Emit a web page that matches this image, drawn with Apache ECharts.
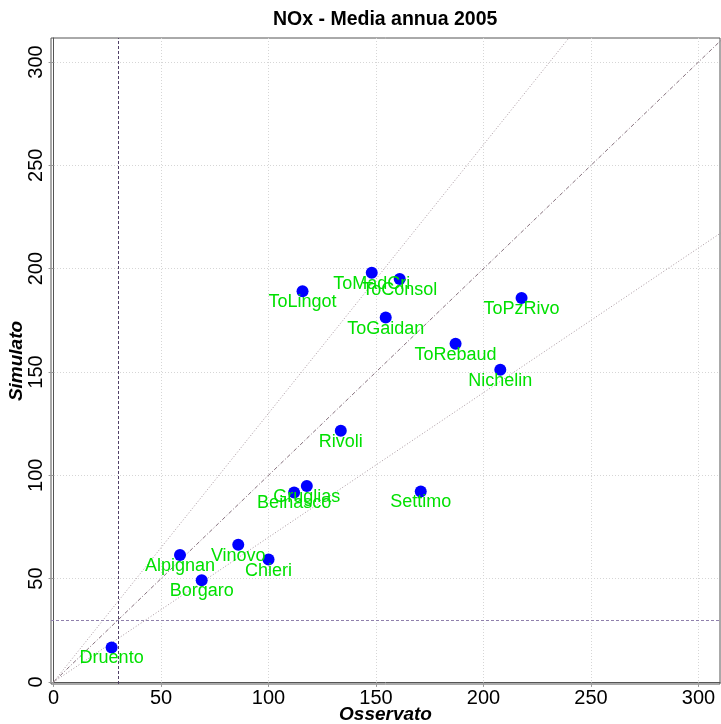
<!DOCTYPE html>
<html>
<head>
<meta charset="utf-8">
<script src="https://cdn.jsdelivr.net/npm/echarts@6/dist/echarts.min.js"></script>
<style>
html,body{margin:0;padding:0;background:#fff;}
#chart{width:721px;height:724px;}
</style>
</head>
<body>
<div id="chart"></div>
<script>
// ---- data ----
const stations = ['Druento','Borgaro','Alpignan','Vinovo','Chieri','Beinasco','Gruglias','Rivoli','Settimo','ToLingot','ToMadCri','ToConsol','ToGaidan','ToPzRivo','ToRebaud','Nichelin'];
const observed  = [27.0, 68.9, 58.8, 85.9, 100.0, 111.9, 117.8, 133.6, 170.8, 115.8, 148.0, 161.0, 154.5, 217.7, 187.0, 207.8];
const simulated = [16.7, 49.2, 61.4, 66.4, 59.2,  91.7,  94.8, 121.6,  92.2, 189.0, 198.0, 195.0, 176.3, 185.8, 163.7, 151.1];
const tickValues = [0, 50, 100, 150, 200, 250, 300];
const thresholdX = 30;
const thresholdY = 30;
const lineOneToOne = [[0, 0], [330, 330]];
const lineUpper = [[0, 0], [250, 325]];   // y = 1.3 x
const lineLower = [[0, 0], [330, 231]];   // y = 0.7 x

const FONT = "'Liberation Sans', Arial, sans-serif";
const chart = echarts.init(document.getElementById('chart'), null, {renderer: 'canvas'});

const points = observed.map((x, i) => ({ name: stations[i], value: [x, simulated[i]] }));

const axisCommon = {
  type: 'value',
  axisLine: { show: true, lineStyle: { color: '#555', width: 1 } },
  axisTick: { show: true, length: 5, inside: false, lineStyle: { color: '#999' }, customValues: tickValues },
  splitLine: { show: true, lineStyle: { color: '#d6d6d6', type: [1, 2], width: 1 } },
  nameTextStyle: { fontFamily: FONT, fontSize: 19, fontWeight: 'bold', fontStyle: 'italic', color: '#000' },
  nameLocation: 'middle',
  nameMoveOverlap: false
};

chart.setOption({
  animation: false,
  backgroundColor: '#fff',
  title: {
    text: 'NOx - Media annua 2005',
    left: 273, top: 10, padding: 0,
    textStyle: { fontFamily: FONT, fontSize: 19.5, fontWeight: 'bold', color: '#000' }
  },
  grid: {
    left: 51, right: 1, top: 38, bottom: 40,
    containLabel: false, outerBoundsMode: 'none',
    show: true, borderColor: '#555', borderWidth: 1, backgroundColor: 'transparent'
  },
  xAxis: Object.assign({}, axisCommon, {
    min: -1.2, max: 310,
    name: 'Osservato', nameGap: 21,
    axisLabel: { customValues: tickValues, fontFamily: FONT, fontSize: 20, color: '#000', margin: 4 }
  }),
  yAxis: Object.assign({}, axisCommon, {
    min: -1, max: 311.6,
    name: 'Simulato', nameGap: 25, nameRotate: 90,
    axisLabel: { customValues: tickValues, fontFamily: FONT, fontSize: 20, color: '#000', margin: 5, rotate: 90 }
  }),
  series: [
    {
      type: 'line', data: lineUpper, symbol: 'none', silent: true, clip: true,
      lineStyle: { color: '#a8979f', width: 1, type: [1, 2] }
    },
    {
      type: 'line', data: lineOneToOne, symbol: 'none', silent: true, clip: true,
      lineStyle: { color: '#85707c', width: 1, type: [4, 2, 1, 2] }
    },
    {
      type: 'line', data: lineLower, symbol: 'none', silent: true, clip: true,
      lineStyle: { color: '#a8979f', width: 1, type: [1, 2] }
    },
    {
      type: 'line', data: [], symbol: 'none', silent: true,
      markLine: {
        silent: true, symbol: ['none', 'none'], label: { show: false },
        lineStyle: { color: '#4f3f66', width: 1, type: [3, 2] },
        emphasis: { disabled: true },
        data: [ { xAxis: thresholdX } ]
      }
    },
    {
      type: 'line', data: [], symbol: 'none', silent: true,
      markLine: {
        silent: true, symbol: ['none', 'none'], label: { show: false },
        lineStyle: { color: '#8f80ac', width: 1, type: [3, 2] },
        emphasis: { disabled: true },
        data: [ { yAxis: thresholdY } ]
      }
    },
    {
      type: 'scatter', data: points, symbol: 'circle', symbolSize: 12,
      itemStyle: { color: '#0000ff', opacity: 1 },
      label: {
        show: true, position: 'inside', offset: [0, 11],
        formatter: p => p.name,
        fontFamily: FONT, fontSize: 18, color: '#00e000'
      },
      z: 5
    }
  ]
});
</script>
</body>
</html>
